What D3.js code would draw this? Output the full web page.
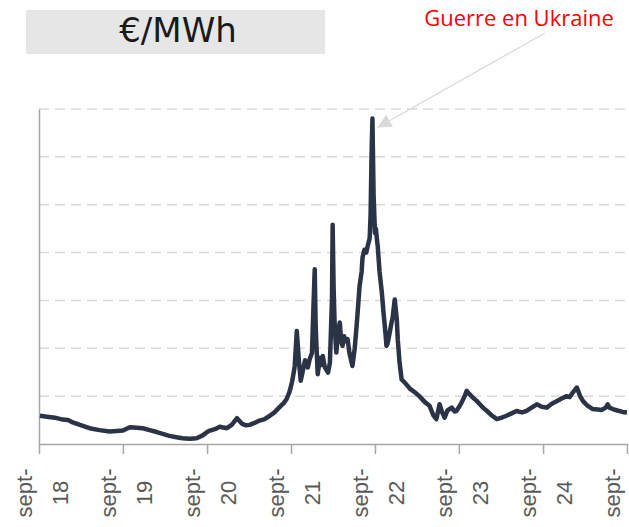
<!DOCTYPE html>
<html>
<head>
<meta charset="utf-8">
<script src="https://cdn.jsdelivr.net/npm/d3@7"></script>
<style>
  body { margin: 0; background: #fff; }
  svg { display: block; }
</style>
</head>
<body>
<div id="chart"></div>
<script>
// Price series (€/MWh)
let dates = [
  '2018-09-05','2018-10-05','2018-11-09','2018-12-13','2019-01-05','2019-01-26','2019-02-26','2019-04-09',
  '2019-05-22','2019-07-05','2019-08-05','2019-09-01','2019-10-01','2019-11-01','2019-11-26','2019-12-26',
  '2020-01-26','2020-02-21','2020-03-21','2020-04-21','2020-05-17','2020-06-17','2020-07-17','2020-08-13',
  '2020-09-01','2020-09-13','2020-10-05','2020-10-26','2020-11-26','2020-12-17','2021-01-09','2021-02-01',
  '2021-02-17','2021-03-05','2021-03-26','2021-04-17','2021-05-09','2021-06-01','2021-06-21','2021-07-13',
  '2021-08-01','2021-08-13','2021-08-26','2021-09-05','2021-09-13','2021-09-17','2021-09-26','2021-10-05',
  '2021-10-13','2021-10-21','2021-11-01','2021-11-13','2021-11-21','2021-12-01','2021-12-05','2021-12-13',
  '2021-12-17','2021-12-21','2021-12-26','2022-01-05','2022-01-10','2022-01-17','2022-01-22','2022-01-26',
  '2022-02-09','2022-02-17','2022-02-26','2022-03-01','2022-03-05','2022-03-09','2022-03-13','2022-03-17',
  '2022-03-24','2022-04-01','2022-04-07','2022-04-13','2022-04-20','2022-04-26','2022-05-05','2022-05-13',
  '2022-05-20','2022-05-26','2022-06-05','2022-06-13','2022-06-20','2022-06-26','2022-07-05','2022-07-09',
  '2022-07-17','2022-07-25','2022-08-01','2022-08-09','2022-08-13','2022-08-17','2022-08-21','2022-08-26',
  '2022-09-01','2022-09-05','2022-09-09','2022-09-13','2022-09-21','2022-10-01','2022-10-09','2022-10-17',
  '2022-10-21','2022-10-26','2022-11-01','2022-11-09','2022-11-17','2022-11-26','2022-12-05','2022-12-09',
  '2022-12-17','2022-12-26','2023-01-09','2023-01-20','2023-02-01','2023-02-10','2023-02-21','2023-03-13',
  '2023-04-05','2023-04-26','2023-05-13','2023-05-26','2023-06-09','2023-06-21','2023-07-01','2023-07-13',
  '2023-08-01','2023-08-13','2023-08-21','2023-09-05','2023-09-13','2023-09-26','2023-10-05','2023-10-17',
  '2023-11-01','2023-11-17','2023-12-01','2023-12-17','2024-01-01','2024-01-21','2024-02-13','2024-03-05',
  '2024-03-26','2024-04-17','2024-05-09','2024-06-01','2024-06-21','2024-07-13','2024-08-05','2024-08-26',
  '2024-09-17','2024-10-09','2024-11-01','2024-11-21','2024-12-13','2024-12-26','2025-01-09','2025-01-26',
  '2025-02-09','2025-02-21','2025-03-13','2025-04-05','2025-04-26','2025-05-13','2025-06-01','2025-06-09',
  '2025-06-17','2025-07-01','2025-07-21','2025-08-13','2025-09-01'
];
let prices = [
  59, 57, 55, 51, 50, 45, 40, 33,
  29, 26, 27, 28, 35, 34, 33, 29,
  25, 21, 17, 14, 12, 11, 12, 18,
  25, 28, 31, 36, 33, 40, 54, 42,
  39, 40, 44, 49, 52, 59, 66, 77,
  86, 94, 110, 129, 150, 163, 236, 175,
  132, 150, 175, 160, 177, 190, 250, 365,
  250, 200, 146, 180, 165, 184, 170, 160,
  149, 170, 300, 458, 330, 260, 220, 191,
  230, 254, 215, 205, 225, 215, 219, 190,
  175, 163, 200, 246, 290, 330, 360, 390,
  406, 400, 415, 430, 480, 600, 680, 520,
  441, 450, 430, 413, 360, 316, 270, 230,
  205, 210, 225, 246, 265, 302, 260, 219,
  170, 135, 128, 122, 115, 112, 108, 100,
  88, 80, 60, 52, 83, 65, 55, 70,
  76, 68, 69, 80, 87, 100, 111, 104,
  97, 90, 83, 75, 69, 60, 52, 55,
  59, 64, 69, 66, 69, 76, 83, 78,
  76, 84, 90, 95, 100, 98, 108, 118,
  100, 90, 80, 73, 72, 71, 76, 83,
  76, 73, 70, 67, 66
];

// Axis ticks: one per September
let tickDates = ['2018-09-01','2019-09-01','2020-09-01','2021-09-01','2022-09-01','2023-09-01','2024-09-01','2025-09-01'];
let tickLabels = ['18','19','20','21','22','23','24',''];
let gridValues = [100, 200, 300, 400, 500, 600, 700];

let title = '€/MWh';
let annotation = 'Guerre en Ukraine';
let annotationDate = '2022-08-21';
let annotationValue = 680;

let parseDate = d3.timeParse('%Y-%m-%d');

let svgWidth = 629;
let svgHeight = 527;

let margin = { top: 109, right: 2, bottom: 83, left: 39 };
let width = svgWidth - margin.left - margin.right;
let height = svgHeight - margin.top - margin.bottom;

let svg = d3.select('#chart')
  .append('svg')
  .attr('width', svgWidth)
  .attr('height', svgHeight);

let data = dates.map((d, i) => ({ date: parseDate(d), value: prices[i] }));

let xScale = d3.scaleTime()
  .domain([parseDate(tickDates[0]), parseDate(tickDates[tickDates.length - 1])])
  .range([0, width]);

let yScale = d3.scaleLinear()
  .domain([0, 700])
  .range([height, 0]);

let chartGroup = svg.append('g')
  .attr('transform', `translate(${margin.left}, ${margin.top})`);

// Dashed gridlines
chartGroup.selectAll('.grid')
  .data(gridValues)
  .enter()
  .append('line')
  .attr('class', 'grid')
  .attr('x1', 0)
  .attr('x2', width + 2)
  .attr('y1', d => yScale(d))
  .attr('y2', d => yScale(d))
  .attr('stroke', '#d9d9d9')
  .attr('stroke-width', 1.5)
  .attr('stroke-dasharray', '10,6');

// Y axis: line only
let yAxis = chartGroup.append('g')
  .call(d3.axisLeft(yScale).tickValues([]).tickSizeOuter(0));
yAxis.select('.domain').attr('stroke', '#a6a6a6').attr('stroke-width', 1.5);

// X axis with ticks
let xAxis = chartGroup.append('g')
  .attr('transform', `translate(0, ${height})`)
  .call(d3.axisBottom(xScale)
    .tickValues(tickDates.map(parseDate))
    .tickSize(10)
    .tickSizeOuter(0)
    .tickFormat(''));
xAxis.select('.domain').attr('stroke', '#a6a6a6').attr('stroke-width', 1.5);
xAxis.selectAll('.tick line').attr('stroke', '#a6a6a6').attr('stroke-width', 1.5);

// Two-line rotated labels
let labels = chartGroup.selectAll('.xlabel')
  .data(tickDates)
  .enter()
  .append('text')
  .attr('class', 'xlabel')
  .attr('transform', d => `translate(${xScale(parseDate(d))}, ${height + 49}) rotate(-90)`)
  .attr('text-anchor', 'middle')
  .attr('font-family', 'Liberation Sans, Arial, sans-serif')
  .attr('font-size', '22px')
  .attr('fill', '#595959');

labels.append('tspan')
  .attr('x', 0)
  .attr('y', -7)
  .text('sept-');

labels.append('tspan')
  .attr('x', 0)
  .attr('y', 29)
  .text((d, i) => tickLabels[i]);

// Price line
let line = d3.line()
  .x(d => xScale(d.date))
  .y(d => yScale(d.value));

chartGroup.append('path')
  .datum(data)
  .attr('d', line)
  .attr('fill', 'none')
  .attr('stroke', '#2b3446')
  .attr('stroke-width', 4.5)
  .attr('stroke-linejoin', 'round');

// Title box
svg.append('rect')
  .attr('x', 26)
  .attr('y', 10)
  .attr('width', 299)
  .attr('height', 44)
  .attr('fill', '#e6e6e6');

svg.append('text')
  .attr('x', 178)
  .attr('y', 42)
  .attr('text-anchor', 'middle')
  .attr('font-family', 'DejaVu Sans, Verdana, sans-serif')
  .attr('font-size', '34px')
  .attr('fill', '#1a1a1a')
  .text(title);

// Annotation with arrow
svg.append('defs').append('marker')
  .attr('id', 'arrow')
  .attr('viewBox', '0 0 10 10')
  .attr('refX', 10)
  .attr('refY', 5)
  .attr('markerWidth', 14)
  .attr('markerHeight', 14)
  .attr('markerUnits', 'userSpaceOnUse')
  .attr('orient', 'auto')
  .append('path')
  .attr('d', 'M0,0 L10,5 L0,10 Z')
  .attr('fill', '#d9d9d9');

let tipX = margin.left + xScale(parseDate(annotationDate)) + 5;
let tipY = margin.top + yScale(annotationValue) + 9;

svg.append('line')
  .attr('x1', 545)
  .attr('y1', 33)
  .attr('x2', tipX)
  .attr('y2', tipY)
  .attr('stroke', '#d9d9d9')
  .attr('stroke-width', 1.2)
  .attr('marker-end', 'url(#arrow)');

svg.append('text')
  .attr('x', 519)
  .attr('y', 26)
  .attr('text-anchor', 'middle')
  .attr('font-family', 'Open Sans, sans-serif')
  .attr('font-size', '22px')
  .attr('fill', '#ff0000')
  .text(annotation);
</script>
</body>
</html>
